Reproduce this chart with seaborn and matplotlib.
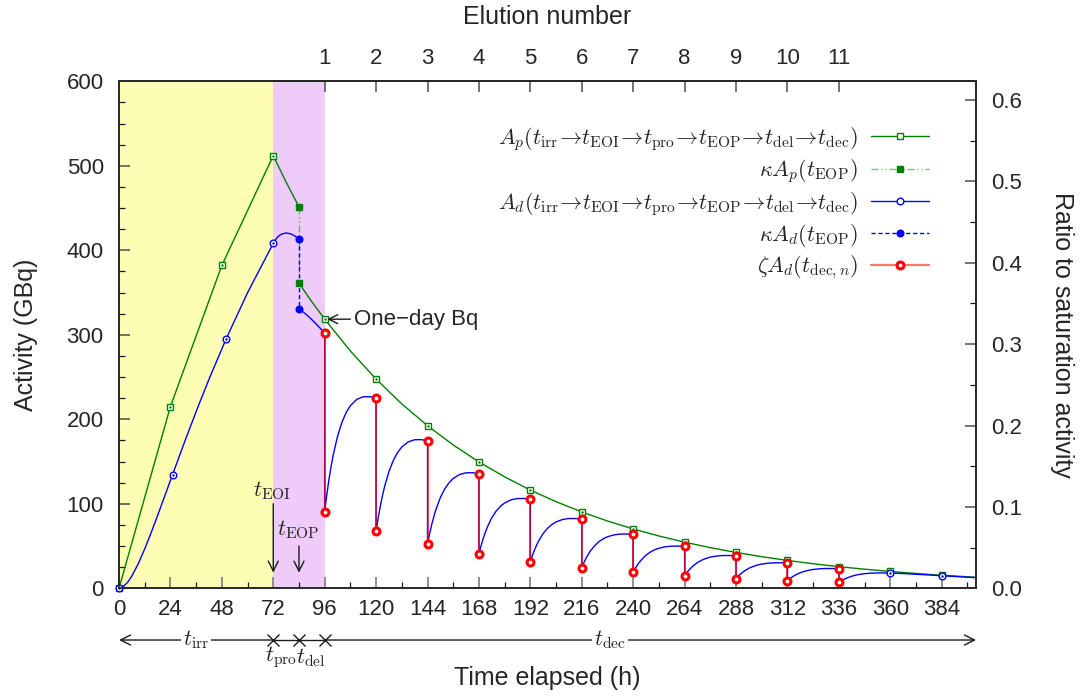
import numpy as np
import pandas as pd
import matplotlib
matplotlib.use('Agg')
import matplotlib.pyplot as plt
import seaborn as sns
from matplotlib.lines import Line2D
from matplotlib.legend_handler import HandlerTuple
from matplotlib.ticker import MultipleLocator, NullLocator

# ---------------- data ----------------
# parent activity A_p, green line (GBq)
ap_irr_t = [0, 24, 48, 72, 78, 84]
ap_irr_v = [0, 215.0, 382.1, 512.0, 480.7, 451.4]
ap_dec_t = [84, 90, 96, 108, 120, 132, 144, 156, 168, 180, 192, 204, 216, 228, 240,
            252, 264, 276, 288, 300, 312, 324, 336, 348, 360, 372, 384, 396, 400]
ap_dec_v = [361.1, 339.1, 318.5, 280.8, 247.6, 218.2, 192.4, 169.6, 149.6, 131.9, 116.2,
            102.5, 90.35, 79.65, 70.22, 61.91, 54.58, 48.12, 42.42, 37.40, 32.97, 29.07,
            25.63, 22.60, 19.92, 17.56, 15.48, 13.65, 13.09]
ap_mark_t = [0, 24, 48, 72, 96, 120, 144, 168, 192, 216, 240, 264, 288, 312, 336, 360, 384]
ap_mark_v = [0, 215.0, 382.1, 512.0, 318.5, 247.6, 192.4, 149.6, 116.2, 90.35, 70.22,
             54.58, 42.42, 32.97, 25.63, 19.92, 15.48]
kap_t = [84, 84]
kap_v = [451.4, 361.1]

# daughter activity A_d, blue line (GBq)
ad_irr_t = [0, 2, 4, 6, 9, 12, 15, 18, 21, 25, 30, 36, 42, 50, 60, 72]
ad_irr_v = [0, 1.9, 7.0, 14.5, 29.1, 46.6, 65.8, 86.0, 106.8, 134.6, 169.1, 209.2,
            247.4, 295.2, 349.8, 408.3]
proc_tau = [0, 1, 2, 3, 4, 6, 8, 10, 12]
proc_ad = [408.3, 412.4, 415.5, 417.8, 419.3, 420.5, 419.6, 417.1, 413.3]
delay_ad = [330.7, 328.9, 327.0, 324.9, 322.7, 317.9, 312.9, 307.6, 302.2]
growth_tau = [0, 1, 2, 3, 4, 6, 8, 10, 12, 15, 18, 21, 24]
growth_ad = [
    [90.7, 111.0, 128.8, 144.3, 157.9, 179.8, 196.1, 207.9, 216.2, 223.6, 226.7, 226.8, 224.8],
    [67.4, 83.6, 97.7, 110.0, 120.8, 138.2, 151.2, 160.6, 167.3, 173.3, 175.8, 176.0, 174.5],
    [52.4, 64.9, 75.9, 85.5, 93.8, 107.4, 117.5, 124.8, 130.0, 134.7, 136.7, 136.8, 135.6],
    [40.7, 50.4, 59.0, 66.4, 72.9, 83.5, 91.3, 97.0, 101.0, 104.7, 106.2, 106.3, 105.4],
    [31.6, 39.2, 45.8, 51.6, 56.7, 64.9, 71.0, 75.4, 78.5, 81.4, 82.6, 82.6, 81.9],
    [24.6, 30.5, 35.6, 40.1, 44.1, 50.4, 55.2, 58.6, 61.0, 63.2, 64.2, 64.2, 63.7],
    [19.1, 23.7, 27.7, 31.2, 34.2, 39.2, 42.9, 45.6, 47.4, 49.2, 49.9, 49.9, 49.5],
    [14.85, 18.4, 21.5, 24.2, 26.6, 30.5, 33.3, 35.4, 36.9, 38.2, 38.8, 38.8, 38.5],
    [11.5, 14.3, 16.7, 18.8, 20.7, 23.7, 25.9, 27.5, 28.7, 29.7, 30.1, 30.2, 29.9],
    [9.0, 11.1, 13.0, 14.7, 16.1, 18.4, 20.1, 21.4, 22.3, 23.1, 23.4, 23.4, 23.2],
    [7.0, 8.6, 10.1, 11.4, 12.5, 14.3, 15.7, 16.6, 17.3, 17.9, 18.2, 18.2, 18.1],
]
tail_t = [366, 372, 378, 384, 392, 400]
tail_ad = [17.45, 16.63, 15.74, 14.83, 13.68, 12.59]
ad_mark_t = [0, 25, 50, 72, 360, 384]
ad_mark_v = [0, 134.6, 295.2, 408.3, 18.07, 14.83]
kad_t = [84, 84]
kad_v = [413.3, 330.7]

# elutions
elution_n = list(range(1, 12))
elution_t = [96, 120, 144, 168, 192, 216, 240, 264, 288, 312, 336]
elu_pre = [302.2, 224.8, 174.5, 135.6, 105.4, 81.9, 63.7, 49.5, 38.5, 29.9, 23.2]
elu_post = [90.7, 67.4, 52.4, 40.7, 31.6, 24.6, 19.1, 14.85, 11.5, 9.0, 7.0]

x_ticks = list(range(0, 400, 24))
saturation = 963.0

# ---------------- build tables ----------------
ap_df = pd.DataFrame({
    't': ap_irr_t + ap_dec_t,
    'v': ap_irr_v + ap_dec_v,
    'seg': [0] * len(ap_irr_t) + [1] * len(ap_dec_t)})

ad_t0 = ad_irr_t + [72 + x for x in proc_tau[1:]]
ad_v0 = ad_irr_v + proc_ad[1:]
ad_t1 = [84 + x for x in proc_tau]
ad_v1 = list(delay_ad)
for e, seg in zip(elution_t, growth_ad):
    ad_t1 += [e + x for x in growth_tau]
    ad_v1 += seg
ad_t1 += tail_t
ad_v1 += tail_ad
ad_df = pd.DataFrame({'t': ad_t0 + ad_t1, 'v': ad_v0 + ad_v1,
                      'seg': [0] * len(ad_t0) + [1] * len(ad_t1)})

# ---------------- style ----------------
sns.set_theme(style='ticks')
plt.rcParams['font.family'] = ['Liberation Sans', 'DejaVu Sans']
plt.rcParams['mathtext.fontset'] = 'cm'

green = '#008000'
blue = '#0000ff'
red = '#ff0000'

fig = plt.figure(figsize=(10.86, 6.97), dpi=100)
ax = fig.add_axes([119 / 1086, 1 - 588.3 / 697, (976 - 119) / 1086, (588.3 - 81.3) / 697])

ax.axvspan(0, 72, color='#fdfdb4', lw=0, zorder=0)
ax.axvspan(72, 96, color='#eecbf8', lw=0, zorder=0)

# green A_p line
sns.lineplot(data=ap_df, x='t', y='v', units='seg', estimator=None, sort=False,
             color=green, lw=1.0, ax=ax, legend=False, zorder=3)
# kappa A_p
ax.plot(kap_t, kap_v, color=green, lw=1.0, alpha=0.5, ls=(0, (5, 2, 1, 2, 1, 2)), zorder=3)
ax.plot(kap_t, kap_v, ls='none', marker='s', ms=5, color=green, zorder=6, clip_on=False)
# blue A_d line
sns.lineplot(data=ad_df, x='t', y='v', units='seg', estimator=None, sort=False,
             color=blue, lw=1.0, ax=ax, legend=False, zorder=4)
ax.plot(kad_t, kad_v, color=blue, lw=1.0, ls=(0, (3, 2)), zorder=4)
ax.plot(kad_t, kad_v, ls='none', marker='o', ms=4.8, color=blue, zorder=6)
# red elution lines
ax.vlines(elution_t, elu_post, elu_pre, color=red, alpha=0.7, lw=1.4, zorder=5)
for vals in (elu_pre, elu_post):
    ax.plot(elution_t, vals, ls='none', marker='o', ms=5, mfc='white', mec=red, mew=2.2,
            zorder=7)
# open markers
ax.plot(ap_mark_t, ap_mark_v, ls='none', marker='s', ms=4.5, mfc='white', mec=green,
        mew=1.0, zorder=6, clip_on=False)
ax.plot(ap_mark_t, ap_mark_v, ls='none', marker='.', ms=1.5, color=green, zorder=6,
        clip_on=False)
ax.plot(ad_mark_t, ad_mark_v, ls='none', marker='o', ms=4.8, mfc='white', mec=blue,
        mew=1.0, zorder=6, clip_on=False)
ax.plot(ad_mark_t, ad_mark_v, ls='none', marker='.', ms=1.5, color=blue, zorder=6,
        clip_on=False)

# axes
ax.set_xlim(0, 400)
ax.set_ylim(0, 600)
ax.set_xticks(x_ticks)
ax.xaxis.set_minor_locator(MultipleLocator(12))
ax.set_yticks(range(0, 601, 100))
ax.yaxis.set_minor_locator(MultipleLocator(25))
ax.set_xlabel('')
ax.set_ylabel('')
ax.tick_params(which='both', direction='in', top=False, right=False, labelsize=16)
ax.tick_params(axis='x', which='major', length=8, width=1.1, color='0.45', pad=8)
ax.tick_params(axis='y', which='major', length=8, width=1.1, color='0.3', pad=11)
ax.tick_params(which='minor', length=4.5, width=0.9, color='0.1')
for s in ax.spines.values():
    s.set_linewidth(1.2)
    s.set_color('0.15')

ax2 = ax.twinx()
ax2.set_ylim(0, 600 / saturation)
ax2.set_yticks(np.arange(0, 0.61, 0.1))
ax2.set_yticklabels(['%.1f' % v for v in np.arange(0, 0.61, 0.1)])
ax2.yaxis.set_minor_locator(MultipleLocator(0.05))
ax2.tick_params(which='both', direction='in', labelsize=16, pad=11)
ax2.tick_params(which='major', length=8, width=1.1, color='0.3')
ax2.tick_params(which='minor', length=4.5, width=0.9, color='0.1')
for s in ax2.spines.values():
    s.set_linewidth(1.2)
    s.set_color('0.15')

sec = ax.secondary_xaxis('top')
sec.set_xticks(elution_t, labels=[str(n) for n in elution_n])
sec.xaxis.set_minor_locator(NullLocator())
sec.tick_params(direction='in', length=8, width=1.1, color='0.3', labelsize=16, pad=9)
sec.spines['top'].set_linewidth(1.2)

# labels
fig.text(547.5 / 1086, 1 - 678 / 697, 'Time elapsed (h)', ha='center', va='center', fontsize=18)
fig.text(547.5 / 1086, 1 - 17 / 697, 'Elution number', ha='center', va='center', fontsize=18)
fig.text(26 / 1086, 1 - 335 / 697, 'Activity (GBq)', ha='center', va='center', fontsize=18,
         rotation=90)
fig.text(1062 / 1086, 1 - 335 / 697, 'Ratio to saturation activity', ha='center',
         va='center', fontsize=18, rotation=270)

# annotations inside
ax.annotate('One\u2212day Bq', xy=(97.2, 318.5), xytext=(109.5, 318.5), ha='left',
            va='center', fontsize=16,
            arrowprops=dict(arrowstyle='->', lw=1.0, color='k', shrinkA=0, shrinkB=0,
                            mutation_scale=16), zorder=8)
ax.text(71.5, 116, r'$t_{\mathrm{EOI}}$', ha='center', va='center', fontsize=16)
ax.text(83.7, 69, r'$t_{\mathrm{EOP}}$', ha='center', va='center', fontsize=16)
ax.annotate('', xy=(72, 18.5), xytext=(72, 100),
            arrowprops=dict(arrowstyle='->', lw=1.0, color='k', shrinkA=0, shrinkB=0,
                            mutation_scale=18))
ax.annotate('', xy=(84, 18.5), xytext=(84, 50),
            arrowprops=dict(arrowstyle='->', lw=1.0, color='k', shrinkA=0, shrinkB=0,
                            mutation_scale=18))

# time-line below the axis
tr = ax.get_xaxis_transform()
yrow = -0.102
ap_kw = dict(arrowstyle='->', lw=1.0, color='k', shrinkA=0, shrinkB=0, mutation_scale=18)
ax.annotate('', xy=(0, yrow), xytext=(72, yrow), xycoords=tr, textcoords=tr,
            arrowprops=ap_kw, annotation_clip=False)
ax.annotate('', xy=(400, yrow), xytext=(96, yrow), xycoords=tr, textcoords=tr,
            arrowprops=ap_kw, annotation_clip=False)
ax.plot([72, 96], [yrow, yrow], transform=tr, color='k', lw=1.0, clip_on=False)
ax.plot([72, 84, 96], [yrow] * 3, transform=tr, ls='none', marker='x', ms=8, mew=1.0,
        color='k', clip_on=False)
ax.text(36, yrow, r'$t_{\mathrm{irr}}$', transform=tr, ha='center', va='center', fontsize=16,
        bbox=dict(fc='white', ec='none', pad=1.5))
ax.text(229, yrow, r'$t_{\mathrm{dec}}$', transform=tr, ha='center', va='center',
        fontsize=16, bbox=dict(fc='white', ec='none', pad=1.5))
ax.text(75.7, -0.136, r'$t_{\mathrm{pro}}$', transform=tr, ha='center', va='center',
        fontsize=16)
ax.text(89.6, -0.136, r'$t_{\mathrm{del}}$', transform=tr, ha='center', va='center',
        fontsize=16)

# legend
h1 = Line2D([], [], color=green, lw=1.0, marker='s', ms=4.5, mfc='white', mec=green)
h2 = (Line2D([], [], color=green, lw=1.0, alpha=0.5, ls=(0, (5, 2, 1, 2, 1, 2))),
      Line2D([], [], ls='none', marker='s', ms=5, color=green))
h3 = Line2D([], [], color=blue, lw=1.0, marker='o', ms=4.8, mfc='white', mec=blue)
h4 = Line2D([], [], color=blue, lw=1.0, ls=(0, (3, 2)), marker='o', ms=4.8)
h5 = (Line2D([], [], color=red, lw=1.6, alpha=0.55),
      Line2D([], [], ls='none', marker='o', ms=5, mfc='white', mec=red, mew=2.2))
arr = r'\!\rightarrow\!'
labels = [
    r'$A_p(t_{\mathrm{irr}}' + arr + r't_{\mathrm{EOI}}' + arr + r't_{\mathrm{pro}}' + arr +
    r't_{\mathrm{EOP}}' + arr + r't_{\mathrm{del}}' + arr + r't_{\mathrm{dec}})$',
    r'$\kappa A_p(t_{\mathrm{EOP}})$',
    r'$A_d(t_{\mathrm{irr}}' + arr + r't_{\mathrm{EOI}}' + arr + r't_{\mathrm{pro}}' + arr +
    r't_{\mathrm{EOP}}' + arr + r't_{\mathrm{del}}' + arr + r't_{\mathrm{dec}})$',
    r'$\kappa A_d(t_{\mathrm{EOP}})$',
    r'$\zeta A_d(t_{\mathrm{dec},n})$',
]
leg = ax.legend([h1, h2, h3, h4, h5], labels, loc='upper right',
                bbox_to_anchor=((929 - 119) / 857, (588.3 - 125) / 507), frameon=False,
                markerfirst=False, fontsize=16, handlelength=2.6, handletextpad=0.6,
                labelspacing=0.2, borderpad=0, borderaxespad=0,
                handler_map={tuple: HandlerTuple(ndivide=1, pad=0)})
leg.set_zorder(10)

fig.savefig('out.png', dpi=100)
